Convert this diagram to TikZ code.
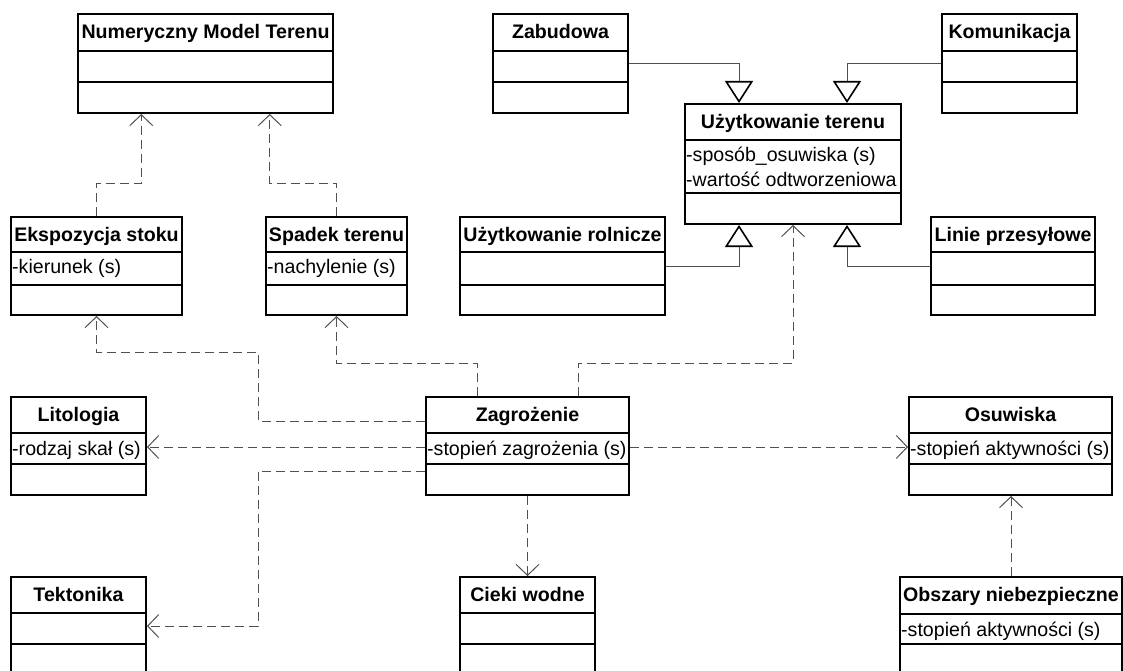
\documentclass[tikz,border=0pt]{standalone}
\usepackage{fontspec}
\setmainfont{Liberation Sans}
\usetikzlibrary{arrows.meta,fit,calc}
\definecolor{cgray}{HTML}{505050}
\tikzset{
  clsbox/.style={draw=black, line width=2pt, inner sep=0pt},
  clsline/.style={draw=black, line width=2pt},
  ttl/.style={anchor=base, inner sep=0pt, font=\bfseries\fontsize{19.6}{23}\selectfont},
  attr/.style={anchor=base west, inner sep=0pt, font=\fontsize{19.6}{23}\selectfont},
  dep/.style={draw=cgray, line width=1pt, dash pattern=on 9pt off 5pt,
    -{Straight Barb[length=11pt,width=23pt,line width=1pt]}},
  gen/.style={draw=cgray, line width=1pt,
    -{Triangle[open,length=22pt,width=28pt,line width=1.6pt,color=black]}}
}
\newcommand\umlbox[8]{%
  \node[clsbox, fit={(#2,#3)(#4,#5)}] (#1) {};
  \draw[clsline] (#2,#6) -- (#4,#6);
  \draw[clsline] (#2,#7) -- (#4,#7);
  \node[ttl] (#1-title) at ({(#2+#4)/2},{#3+24.5}) {#8};
}
\begin{document}
\begin{tikzpicture}[x=1pt,y=-1pt]
\useasboundingbox (0,0) rectangle (1123,671);
\clip (0,0) rectangle (1123,671);

% classes
\umlbox{nmt}{78}{14}{333}{113}{51}{82}{Numeryczny Model Terenu}
\umlbox{zab}{493}{14}{628}{113}{51}{82}{Zabudowa}
\umlbox{kom}{942}{14}{1077}{113}{51}{82}{Komunikacja}
\umlbox{ut}{685}{104}{901}{224}{140}{193}{Użytkowanie terenu}
\node[attr] (ut-a1) at (686,161) {-sposób\_osuwiska (s)};
\node[attr] (ut-a2) at (686,186) {-wartość odtworzeniowa};
\umlbox{eks}{11}{217}{182}{315}{252}{285}{Ekspozycja stoku}
\node[attr] (eks-a1) at (12,273) {-kierunek (s)};
\umlbox{spa}{266}{217}{407}{315}{252}{285}{Spadek terenu}
\node[attr] (spa-a1) at (267,273) {-nachylenie (s)};
\umlbox{rol}{460}{217}{665}{315}{252}{285}{Użytkowanie rolnicze}
\umlbox{lin}{931}{217}{1095}{315}{252}{285}{Linie przesyłowe}
\umlbox{lit}{11}{397}{146}{495}{433}{464}{Litologia}
\node[attr] (lit-a1) at (12,455) {-rodzaj skał (s)};
\umlbox{zag}{426}{397}{629}{495}{433}{464}{Zagrożenie}
\node[attr] (zag-a1) at (427,455) {-stopień zagrożenia (s)};
\umlbox{osu}{909}{397}{1112}{495}{433}{464}{Osuwiska}
\node[attr] (osu-a1) at (910,455) {-stopień aktywności (s)};
\umlbox{tek}{11}{577}{146}{675}{613}{644}{Tektonika}
\umlbox{cie}{460}{577}{595}{675}{613}{644}{Cieki wodne}
\umlbox{obs}{900}{577}{1122}{676}{614}{644}{Obszary niebezpieczne}
\node[attr] (obs-a1) at (901,636) {-stopień aktywności (s)};

% dependency targets on NMT
\coordinate (n1) at ($(nmt.south west)!0.25!(nmt.south east)$);
\coordinate (n2) at ($(nmt.south west)!0.75!(nmt.south east)$);

% dependencies
\draw[dep] (eks.north) -- (eks.north |- 0,183) -| (n1);
\draw[dep] (spa.north) -- (spa.north |- 0,183) -| (n2);
\draw[dep] (zag.west |- 0,421) -| (258,352) -| (eks.south);
\draw[dep] (477,0 |- zag.north) -- (477,363) -| (spa.south);
\draw[dep] (578,0 |- zag.north) -- (578,363) -| (ut.south);
\draw[dep] (zag.west |- 0,447) -- (lit.east |- 0,447);
\draw[dep] (zag.west |- 0,471) -| (258,626) -- (tek.east |- 0,626);
\draw[dep] (zag.south) -- (cie.north);
\draw[dep] (zag.east |- 0,447) -- (osu.west |- 0,447);
\draw[dep] (obs.north) -- (obs.north |- osu.south);

% generalizations
\draw[gen] (zab.east |- 0,64) -| (739,0 |- ut.north);
\draw[gen] (kom.west |- 0,64) -| (847,0 |- ut.north);
\draw[gen] (rol.east |- 0,266) -| (739,0 |- ut.south);
\draw[gen] (lin.west |- 0,266) -| (847,0 |- ut.south);
\end{tikzpicture}
\end{document}
